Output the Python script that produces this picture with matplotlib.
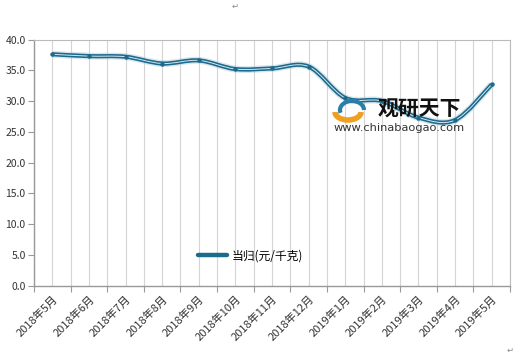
import matplotlib
matplotlib.use('Agg')
import matplotlib.pyplot as plt
from matplotlib.path import Path
from matplotlib.patches import PathPatch, Arc

plt.rcParams['font.family'] = ['Noto Sans CJK SC', 'DejaVu Sans']

months = ['2018年5月', '2018年6月', '2018年7月', '2018年8月', '2018年9月',
          '2018年10月', '2018年11月', '2018年12月', '2019年1月', '2019年2月',
          '2019年3月', '2019年4月', '2019年5月']
price = [37.6, 37.3, 37.2, 36.1, 36.6, 35.2, 35.3, 35.6, 30.5, 30.0, 27.3, 26.9, 32.7]
series_name = '当归(元/千克)'


def smooth_path(xs, ys):
    # excel style smoothed line: bezier segments through each point
    n = len(xs)
    verts = [(xs[0], ys[0])]
    codes = [Path.MOVETO]
    for i in range(n - 1):
        p0 = max(i - 1, 0)
        p3 = min(i + 2, n - 1)
        c1 = (xs[i] + (xs[i + 1] - xs[p0]) / 6, ys[i] + (ys[i + 1] - ys[p0]) / 6)
        c2 = (xs[i + 1] - (xs[p3] - xs[i]) / 6, ys[i + 1] - (ys[p3] - ys[i]) / 6)
        verts += [c1, c2, (xs[i + 1], ys[i + 1])]
        codes += [Path.CURVE4] * 3
    return Path(verts, codes)


fig = plt.figure(figsize=(5.2, 3.56), dpi=100)
ax = fig.add_axes([0.0654, 0.198, 0.9154, 0.691])

x = list(range(len(months)))
path = smooth_path(x, price)
ax.add_patch(PathPatch(path, fill=False, lw=5, edgecolor='#a9c9d8', alpha=0.45, zorder=3))
ax.add_patch(PathPatch(path, fill=False, lw=3.0, edgecolor='#1c6a8c', zorder=4))
ax.add_patch(PathPatch(path, fill=False, lw=0.7, edgecolor='#d3e6ee', zorder=5))
ax.plot(x, price, 'o', ms=2.2, color='#1c6a8c', zorder=6)

# legend proxy
ax.plot([], [], color='#1c6a8c', lw=3.2, solid_capstyle='round', label=series_name)
ax.legend(loc='center', bbox_to_anchor=(0.455, 0.12), frameon=False,
          fontsize=8.5, handlelength=2.4, handletextpad=0.4)

ax.set_xlim(-0.5, len(months) - 0.5)
ax.set_ylim(0, 40)
ax.set_yticks(range(0, 41, 5))
ax.set_yticklabels([f'{v:.1f}' for v in range(0, 41, 5)], fontsize=7.5, color='#333333')
ax.set_xticks([i - 0.5 for i in range(len(months) + 1)])
ax.set_xticklabels([])
ax.set_xticks(x, minor=True)
ax.set_xticklabels(months, minor=True, rotation=45, ha='right', rotation_mode='anchor',
                   fontsize=8, color='#333333')
ax.tick_params(axis='x', which='minor', length=0, pad=6)
ax.tick_params(axis='x', which='major', length=4, color='#999999', direction='out')
ax.tick_params(axis='y', length=4, color='#999999', direction='out', pad=2)

ax.grid(axis='x', which='both', color='#d4d4d4', lw=0.8)
ax.set_axisbelow(True)
for side in ['left', 'bottom']:
    ax.spines[side].set_color('#999999')
    ax.spines[side].set_linewidth(1.0)
for side in ['top', 'right']:
    ax.spines[side].set_color('#bbbbbb')
    ax.spines[side].set_linewidth(0.8)

# watermark
fig.patches.append(Arc((348 / 520, 1 - 112 / 356), 26 / 520, 16 / 356, theta1=180, theta2=360,
                       lw=4, color='#f0a020', transform=fig.transFigure, figure=fig, zorder=7))
fig.patches.append(Arc((352 / 520, 1 - 110 / 356), 24 / 520, 18 / 356, theta1=0, theta2=200,
                       lw=3, color='#2a7fa6', transform=fig.transFigure, figure=fig, zorder=7))
fig.text(378 / 520, 1 - 109 / 356, '观研天下', fontsize=15, fontweight='bold', color='#111111',
         ha='left', va='center', zorder=8)
fig.text(334 / 520, 1 - 128 / 356, 'www.chinabaogao.com', fontsize=8.2, color='#333333',
         ha='left', va='center', family='DejaVu Sans', zorder=8)
fig.text(0.445, 0.975, '↵', fontsize=6, color='#888888', family='DejaVu Sans')
fig.text(0.975, 0.01, '↵', fontsize=6, color='#888888', family='DejaVu Sans')

fig.savefig('out.png', dpi=100)
